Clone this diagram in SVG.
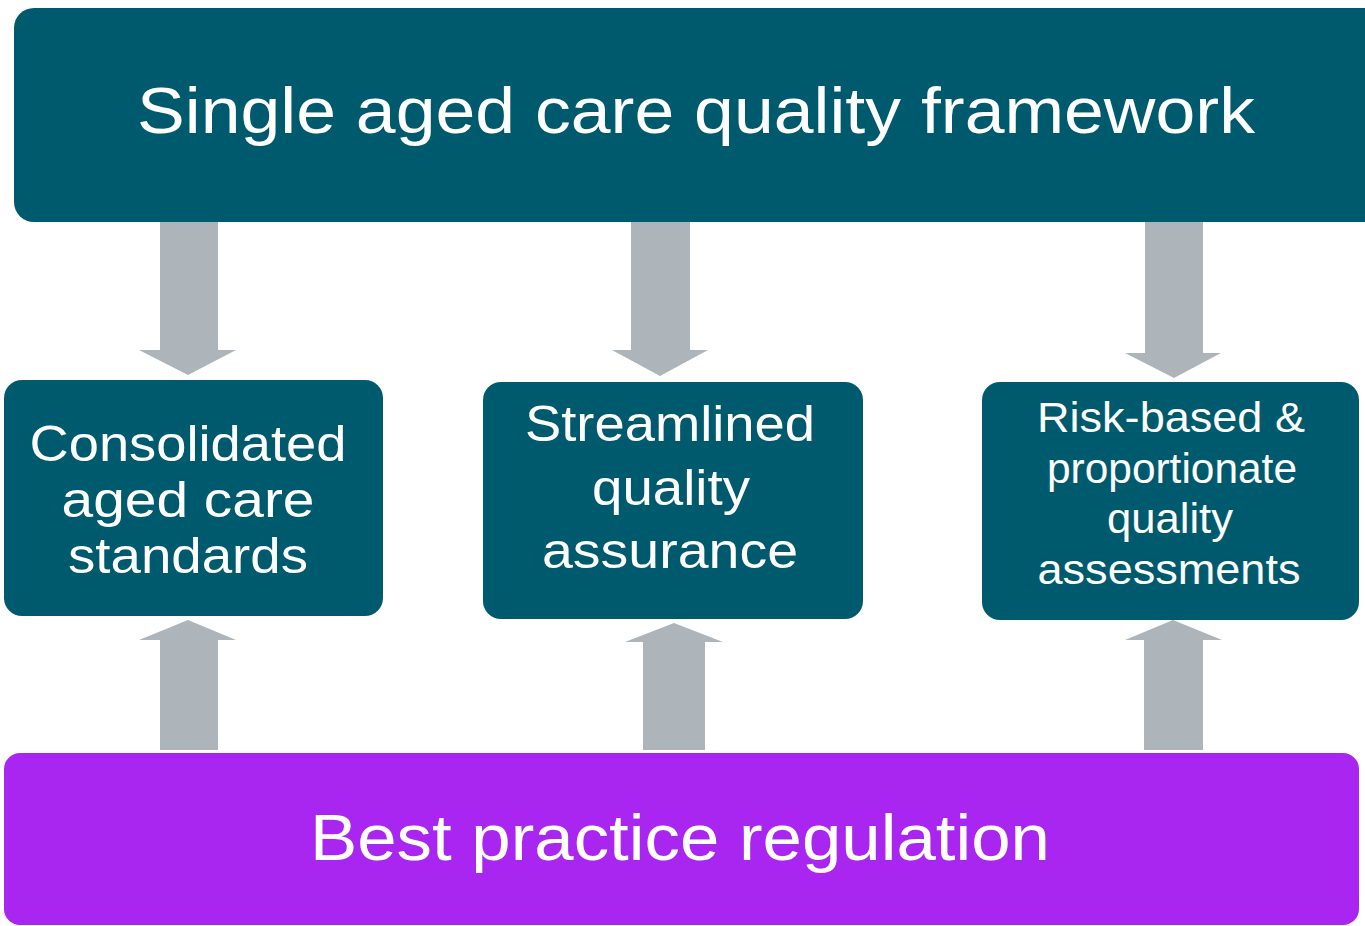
<svg xmlns="http://www.w3.org/2000/svg" width="1365" height="926" viewBox="0 0 1365 926">
<style>
.box{fill:#005A6E}
.reg{fill:#A926F0}
.arrow{fill:#ADB5BA}
text{font-family:"Liberation Sans",Arial,sans-serif;fill:#FFFFFF;text-anchor:middle}
.t1{font-size:64px}
.t2{font-size:50px}
.t3{font-size:42px}
</style>
<rect width="1365" height="926" fill="#FFFFFF"/>
<g id="connectors">
<polygon class="arrow" points="160,222 218,222 218,350 236,350 188,375 139,350 160,350"/>
<polygon class="arrow" points="631,220 690,220 690,350 708,350 660,376 612,350 631,350"/>
<polygon class="arrow" points="1145,220 1203,220 1203,353 1221,353 1174,378 1125,353 1145,353"/>
<polygon class="arrow" points="160,750 218,750 218,640 236,640 188,620 139,640 160,640"/>
<polygon class="arrow" points="643,750 705,750 705,642 723,642 674,623 625,642 643,642"/>
<polygon class="arrow" points="1144,750 1203,750 1203,640 1222,640 1173,620 1125,640 1144,640"/>
</g>
<g id="framework">
<rect class="box" x="14" y="8" width="1390" height="214" rx="20"/>
<text class="t1" x="696" y="133" textLength="1118" lengthAdjust="spacingAndGlyphs">Single aged care quality framework</text>
</g>
<g id="standards">
<rect class="box" x="4" y="380" width="379" height="236" rx="18"/>
<text class="t2" x="188" y="461" textLength="317" lengthAdjust="spacingAndGlyphs">Consolidated</text>
<text class="t2" x="188" y="517" textLength="253" lengthAdjust="spacingAndGlyphs">aged care</text>
<text class="t2" x="188" y="573" textLength="240" lengthAdjust="spacingAndGlyphs">standards</text>
</g>
<g id="assurance">
<rect class="box" x="483" y="382" width="380" height="237" rx="18"/>
<text class="t2" x="670" y="441" textLength="290" lengthAdjust="spacingAndGlyphs">Streamlined</text>
<text class="t2" x="671" y="505" textLength="158" lengthAdjust="spacingAndGlyphs">quality</text>
<text class="t2" x="670" y="568" textLength="256" lengthAdjust="spacingAndGlyphs">assurance</text>
</g>
<g id="assessments">
<rect class="box" x="982" y="382" width="377" height="238" rx="18"/>
<text class="t3" x="1171" y="432" textLength="268" lengthAdjust="spacingAndGlyphs">Risk-based &amp;</text>
<text class="t3" x="1172" y="483" textLength="250" lengthAdjust="spacingAndGlyphs">proportionate</text>
<text class="t3" x="1170" y="533" textLength="126" lengthAdjust="spacingAndGlyphs">quality</text>
<text class="t3" x="1169" y="584" textLength="263" lengthAdjust="spacingAndGlyphs">assessments</text>
</g>
<g id="regulation">
<rect class="reg" x="4" y="753" width="1355" height="172" rx="16"/>
<text class="t1" x="680" y="860" textLength="740" lengthAdjust="spacingAndGlyphs">Best practice regulation</text>
</g>
</svg>
